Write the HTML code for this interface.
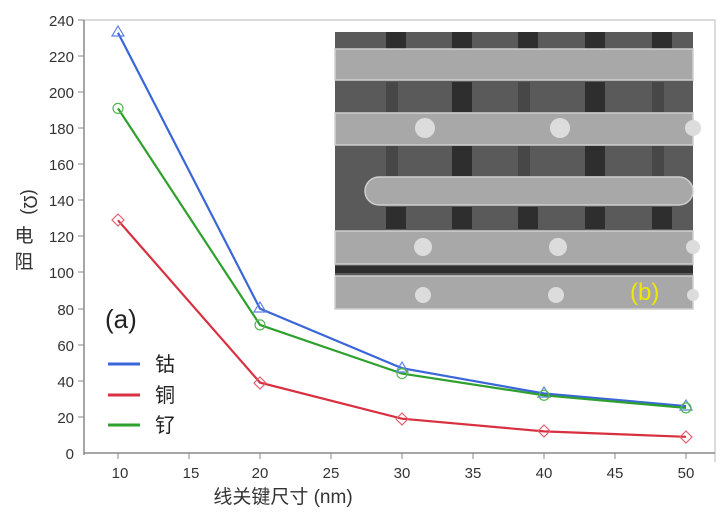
<!DOCTYPE html>
<html><head><meta charset="utf-8"><style>
body{margin:0;background:#fff;}
svg text{font-family:"Liberation Sans","Noto Sans CJK SC",sans-serif;}
</style></head><body>
<svg width="728" height="520" viewBox="0 0 728 520" xmlns="http://www.w3.org/2000/svg">
<rect width="728" height="520" fill="#fff"/>
<!-- frame -->
<polyline points="84,20 715,20 715,462" fill="none" stroke="#d0d0d0" stroke-width="1.5"/>
<line x1="84" y1="20" x2="84" y2="455" stroke="#888" stroke-width="1.5"/>
<line x1="84" y1="453" x2="715" y2="453" stroke="#888" stroke-width="1.5"/>
<g stroke="#888" stroke-width="1">
<line x1="78" y1="20" x2="84" y2="20"/><line x1="78" y1="56" x2="84" y2="56"/><line x1="78" y1="92" x2="84" y2="92"/><line x1="78" y1="128" x2="84" y2="128"/><line x1="78" y1="164" x2="84" y2="164"/><line x1="78" y1="200" x2="84" y2="200"/><line x1="78" y1="236" x2="84" y2="236"/><line x1="78" y1="272" x2="84" y2="272"/><line x1="78" y1="309" x2="84" y2="309"/><line x1="78" y1="345" x2="84" y2="345"/><line x1="78" y1="381" x2="84" y2="381"/><line x1="78" y1="417" x2="84" y2="417"/>
<line x1="118" y1="453" x2="118" y2="459"/><line x1="189" y1="453" x2="189" y2="459"/><line x1="260" y1="453" x2="260" y2="459"/><line x1="331" y1="453" x2="331" y2="459"/><line x1="402" y1="453" x2="402" y2="459"/><line x1="473" y1="453" x2="473" y2="459"/><line x1="544" y1="453" x2="544" y2="459"/><line x1="615" y1="453" x2="615" y2="459"/><line x1="686" y1="453" x2="686" y2="459"/>
</g>
<g font-size="15" fill="#333" text-anchor="end">
<text x="74" y="26">240</text><text x="74" y="62">220</text><text x="74" y="98">200</text><text x="74" y="134">180</text><text x="74" y="170">160</text><text x="74" y="206">140</text><text x="74" y="242">120</text><text x="74" y="278">100</text><text x="74" y="315">80</text><text x="74" y="351">60</text><text x="74" y="387">40</text><text x="74" y="423">20</text><text x="74" y="459">0</text>
</g>
<g font-size="15" fill="#333" text-anchor="middle">
<text x="120" y="478">10</text><text x="191" y="478">15</text><text x="260" y="478">20</text><text x="331" y="478">25</text><text x="402" y="478">30</text><text x="473" y="478">35</text><text x="544" y="478">40</text><text x="615" y="478">45</text><text x="686" y="478">50</text>
</g>
<text x="283" y="503" font-size="19" fill="#333" text-anchor="middle">线关键尺寸 (nm)</text>
<text transform="translate(24,202) rotate(90)" font-size="18" fill="#333" text-anchor="middle">(Ω)</text>
<text x="24" y="242" font-size="19" fill="#333" text-anchor="middle">电</text>
<text x="24" y="268" font-size="19" fill="#333" text-anchor="middle">阻</text>
<!-- inset SEM -->
<g>
<rect x="335" y="32" width="358" height="277" fill="#5a5a5a"/>
<g fill="#2e2e2e">
<rect x="386" y="32" width="20" height="17"/><rect x="452" y="32" width="20" height="17"/><rect x="518" y="32" width="20" height="17"/><rect x="585" y="32" width="20" height="17"/><rect x="652" y="32" width="20" height="17"/>
<rect x="452" y="82" width="20" height="30"/><rect x="585" y="82" width="20" height="30"/>
<rect x="452" y="146" width="20" height="30"/><rect x="585" y="146" width="20" height="30"/>
<rect x="386" y="207" width="20" height="22"/><rect x="452" y="207" width="20" height="22"/><rect x="518" y="207" width="20" height="22"/><rect x="585" y="207" width="20" height="22"/><rect x="652" y="207" width="20" height="22"/>
<rect x="335" y="266" width="358" height="7"/>
</g>
<g fill="#474747">
<rect x="386" y="82" width="12" height="30"/><rect x="518" y="82" width="12" height="30"/><rect x="652" y="82" width="12" height="30"/>
<rect x="386" y="146" width="12" height="30"/><rect x="518" y="146" width="12" height="30"/><rect x="652" y="146" width="12" height="30"/>
</g>
<g fill="#a8a8a8" stroke="#cfcfcf" stroke-width="1.5">
<rect x="335" y="49" width="358" height="31"/>
<rect x="335" y="113" width="358" height="32"/>
<rect x="365" y="177" width="328" height="28" rx="14"/>
<rect x="335" y="231" width="358" height="33"/>
<rect x="335" y="276" width="358" height="33"/>
</g>
<g fill="#dcdcdc">
<circle cx="425" cy="128" r="10"/><circle cx="560" cy="128" r="10"/><circle cx="693" cy="128" r="8"/>
<circle cx="423" cy="247" r="9"/><circle cx="558" cy="247" r="9"/><circle cx="693" cy="247" r="7"/>
<circle cx="423" cy="295" r="8"/><circle cx="556" cy="295" r="8"/><circle cx="693" cy="295" r="6"/>
</g>
<text x="630" y="300" font-size="24" fill="#f0e800">(b)</text>
</g>
<!-- series -->
<polyline points="118,32.7 260,308.7 402,368.2 544,393.5 686,406.1" fill="none" stroke="#3a66d8" stroke-width="2.2"/>
<polyline points="118,108.4 260,324.9 402,373.6 544,395.3 686,407.9" fill="none" stroke="#2ea02e" stroke-width="2.2"/>
<polyline points="118,220.3 260,382.6 402,418.7 544,431.4 686,436.8" fill="none" stroke="#d83040" stroke-width="2.2"/>
<g fill="none" stroke-width="1.2">
<g stroke="#5a80e0"><path d="M118,26 L124,36 L112,36Z"/><path d="M260,302 L266,312 L254,312Z"/><path d="M402,362 L408,372 L396,372Z"/><path d="M544,387 L550,397 L538,397Z"/><path d="M686,400 L692,410 L680,410Z"/></g>
<g stroke="#50b850"><circle cx="118" cy="108.4" r="5"/><circle cx="260" cy="324.9" r="5"/><circle cx="402" cy="373.6" r="5"/><circle cx="544" cy="395.3" r="5"/><circle cx="686" cy="407.9" r="5"/></g>
<g stroke="#e06070"><path d="M118,214 L124,220 L118,226 L112,220Z"/><path d="M260,377 L266,383 L260,389 L254,383Z"/><path d="M402,413 L408,419 L402,425 L396,419Z"/><path d="M544,425 L550,431 L544,437 L538,431Z"/><path d="M686,431 L692,437 L686,443 L680,437Z"/></g>
</g>
<!-- legend -->
<text x="105" y="328" font-size="26" fill="#222">(a)</text>
<line x1="108" y1="364" x2="140" y2="364" stroke="#3a66d8" stroke-width="3"/>
<line x1="108" y1="395" x2="140" y2="395" stroke="#d83040" stroke-width="3"/>
<line x1="108" y1="425" x2="140" y2="425" stroke="#2ea02e" stroke-width="3"/>
<g font-size="20" fill="#222"><text x="155" y="371">钴</text><text x="155" y="402">铜</text><text x="155" y="432">钌</text></g>
</svg>
</body></html>
